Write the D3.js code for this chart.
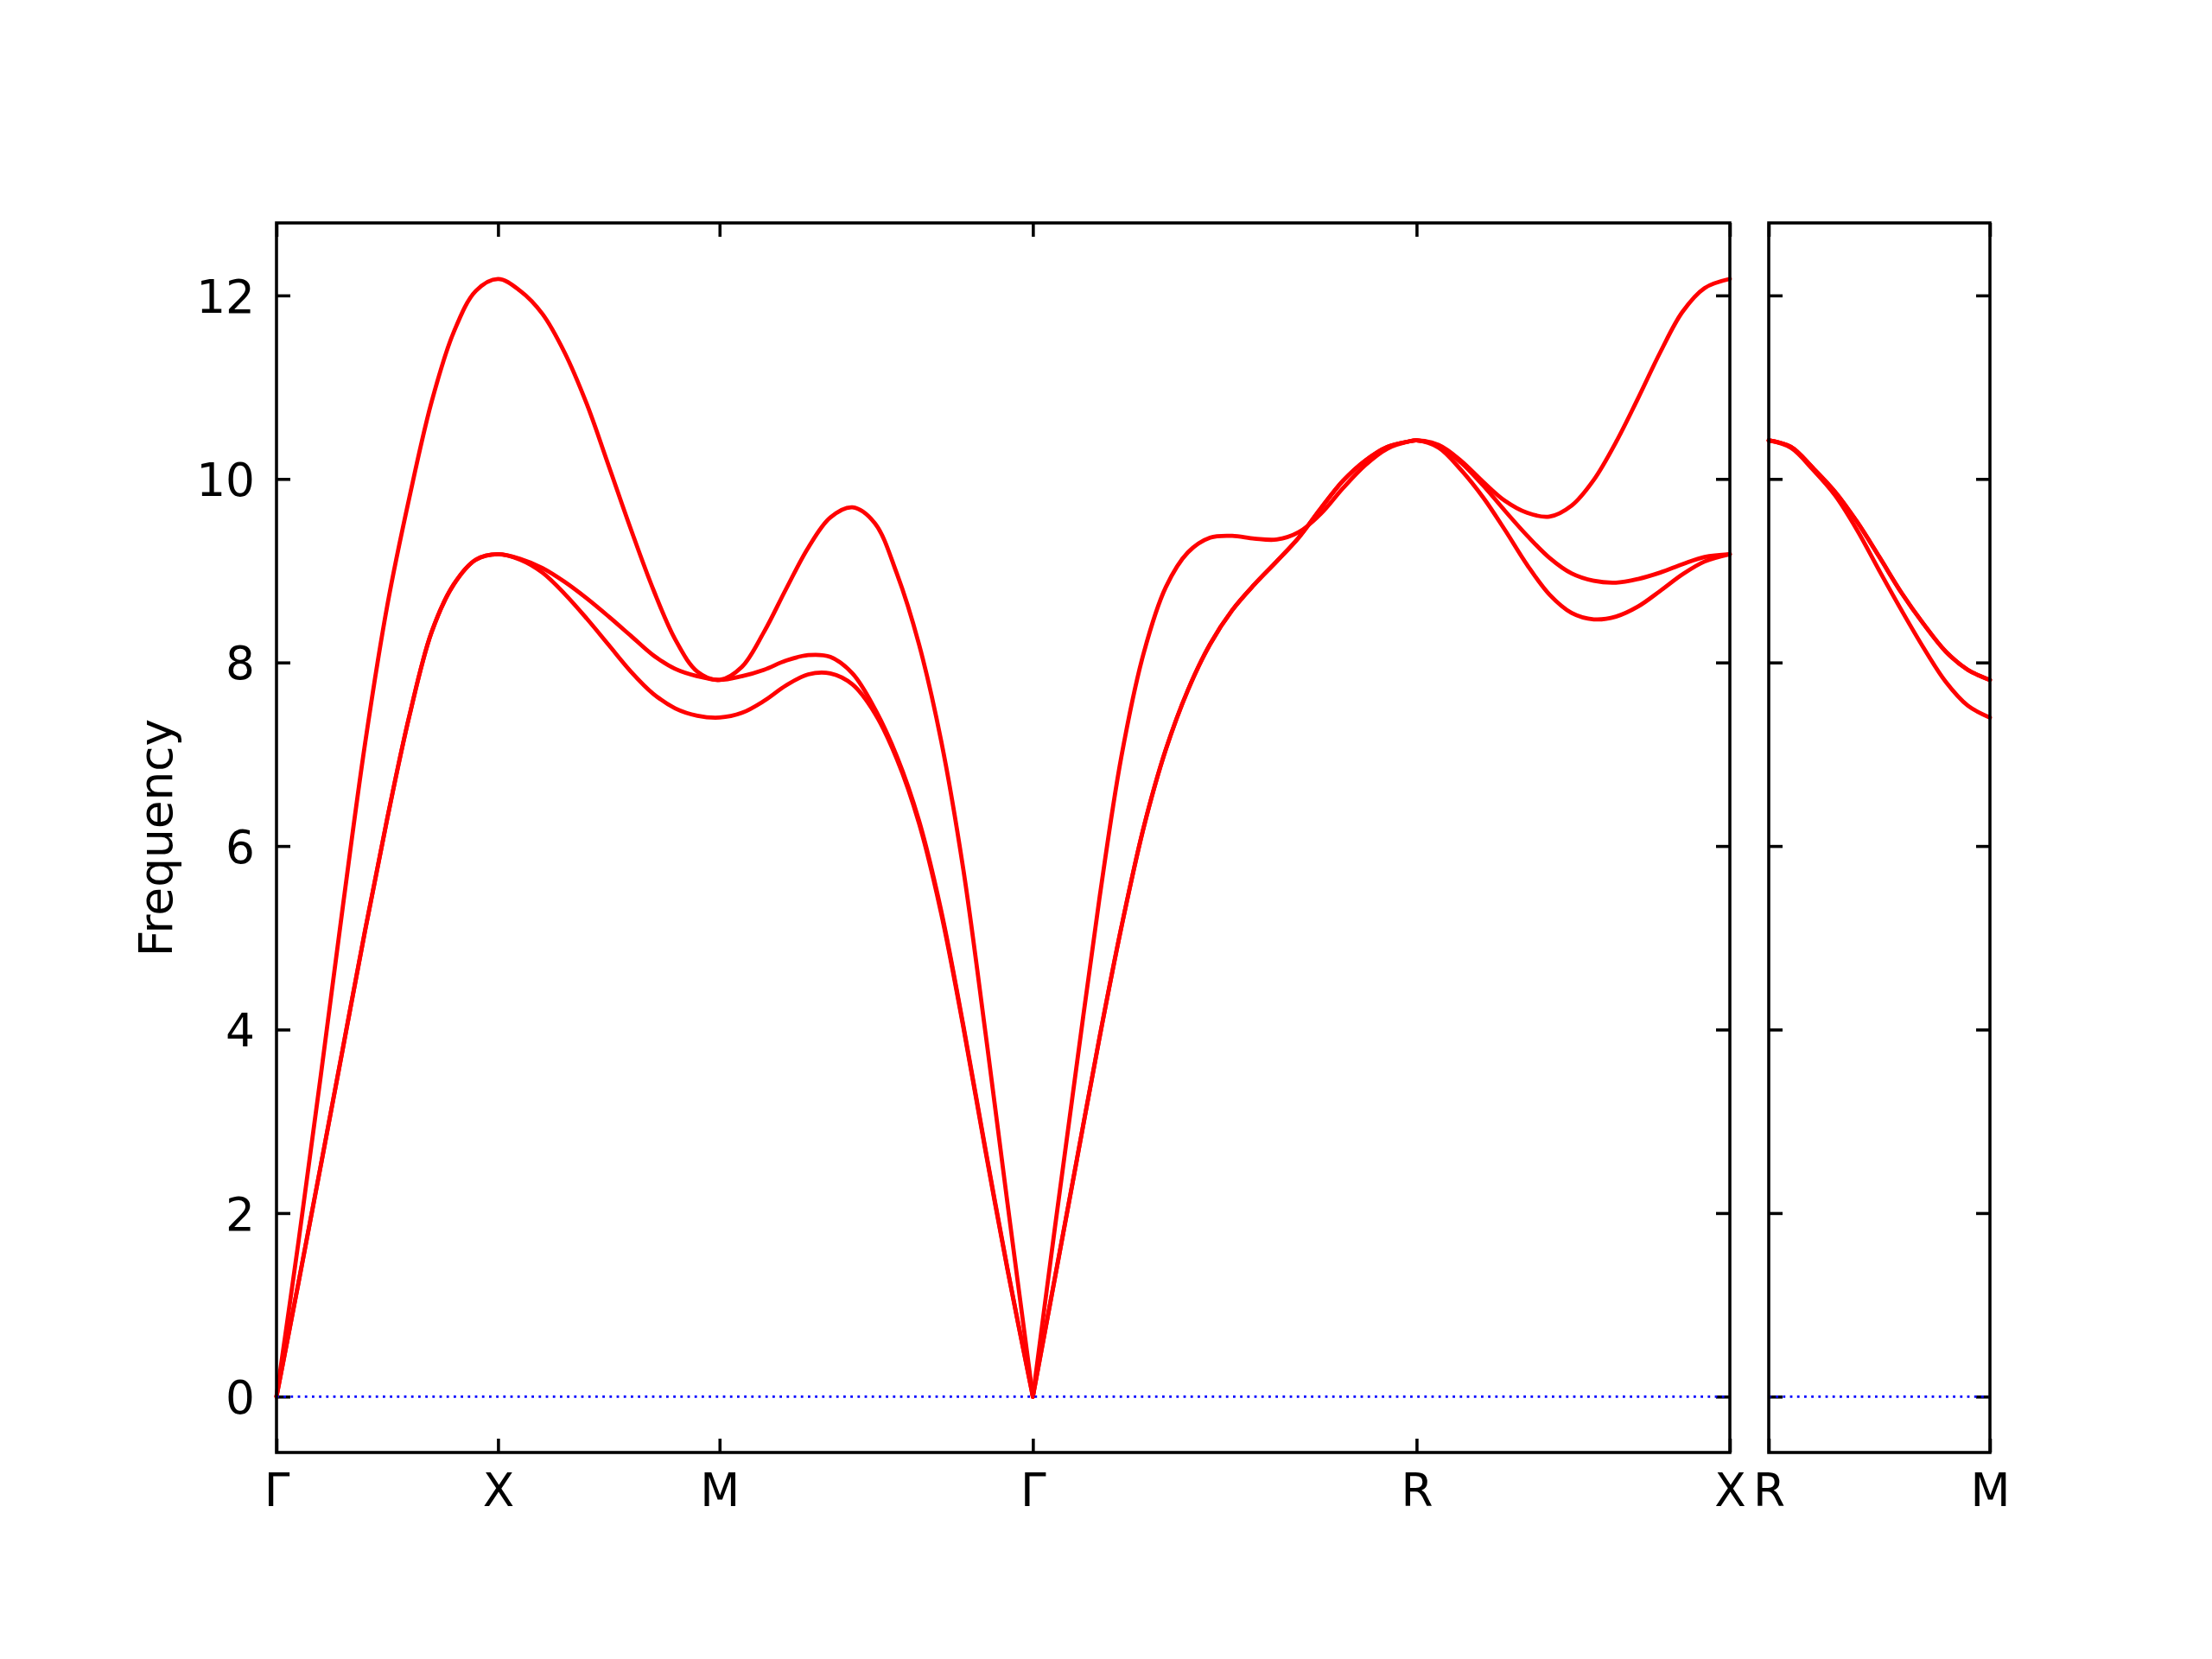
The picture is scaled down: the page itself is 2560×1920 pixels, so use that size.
<!DOCTYPE html>
<html>
<head>
<meta charset="utf-8">
<script src="https://cdn.jsdelivr.net/npm/d3@7"></script>
<style>
  body { margin: 0; background: #fff; }
  svg text { font-family: "DejaVu Sans", sans-serif; }
</style>
</head>
<body>
<div id="chart"></div>
<script>
// high symmetry path, two panels
var mainLabels = ["Γ", "X", "M", "Γ", "R", "X"];
var mainSegLengths = [0.5, 0.5, 0.7071, 0.8660, 0.7071];
var sideLabels = ["R", "M"];
var sideSegLengths = [0.5];

var freqTicks = [0, 2, 4, 6, 8, 10, 12];
var freqDomain = [-0.609, 12.79];

var kHalf = [0, 0.05, 0.1, 0.15, 0.2, 0.25, 0.3, 0.35, 0.4, 0.45, 0.5];
var kMG = [0, 0.05, 0.1, 0.15, 0.2, 0.25, 0.3, 0.35, 0.4, 0.45, 0.5, 0.55, 0.6, 0.65, 0.7071];
var kGR = [0, 0.05, 0.1, 0.15, 0.2, 0.25, 0.3, 0.35, 0.4, 0.45, 0.5, 0.55, 0.6, 0.65, 0.7, 0.75, 0.8, 0.85, 0.866];
var kRX = [0, 0.05, 0.1, 0.15, 0.2, 0.25, 0.3, 0.35, 0.4, 0.45, 0.5, 0.55, 0.6, 0.65, 0.7071];

// Gamma -> X
var gxBand1 = [0, 1.25, 2.52, 3.8, 5.08, 6.3, 7.42, 8.33, 8.85, 9.12, 9.18];
var gxBand2 = [0, 1.25, 2.52, 3.8, 5.08, 6.3, 7.42, 8.33, 8.85, 9.12, 9.18];
var gxBand3 = [0, 1.7, 3.5, 5.35, 7.12, 8.62, 9.8, 10.84, 11.6, 12.05, 12.18];

// X -> M
var xmBand1 = [9.18, 9.12, 8.98, 8.75, 8.48, 8.19, 7.9, 7.66, 7.5, 7.42, 7.40];
var xmBand2 = [9.18, 9.13, 9.03, 8.88, 8.7, 8.5, 8.29, 8.08, 7.93, 7.85, 7.81];
var xmBand3 = [12.18, 12.05, 11.8, 11.38, 10.82, 10.14, 9.45, 8.8, 8.25, 7.9, 7.81];

// M -> Gamma
var mgBand1 = [7.40, 7.45, 7.58, 7.75, 7.87, 7.88, 7.76, 7.45, 6.95, 6.25, 5.27, 4.03, 2.68, 1.38, 0];
var mgBand2 = [7.81, 7.85, 7.92, 8.02, 8.08, 8.06, 7.88, 7.5, 6.98, 6.28, 5.3, 4.05, 2.7, 1.39, 0];
var mgBand3 = [7.81, 7.95, 8.33, 8.8, 9.25, 9.58, 9.69, 9.52, 8.97, 8.2, 7.15, 5.75, 3.97, 2.1, 0];

// Gamma -> R
var grBand1 = [0, 1.3, 2.6, 3.9, 5.12, 6.2, 7.05, 7.7, 8.2, 8.57, 8.85, 9.1, 9.36, 9.68, 9.98, 10.2, 10.35, 10.41, 10.42];
var grBand2 = [0, 1.3, 2.6, 3.9, 5.12, 6.2, 7.05, 7.7, 8.2, 8.57, 8.85, 9.1, 9.36, 9.68, 9.98, 10.2, 10.35, 10.41, 10.42];
var grBand3 = [0, 1.85, 3.65, 5.42, 6.98, 8.1, 8.82, 9.2, 9.36, 9.38, 9.35, 9.34, 9.42, 9.62, 9.9, 10.15, 10.33, 10.41, 10.42];

// R -> X
var rxBand1 = [10.42, 10.34, 10.1, 9.8, 9.44, 9.06, 8.74, 8.54, 8.47, 8.5, 8.61, 8.78, 8.96, 9.1, 9.18];
var rxBand2 = [10.42, 10.36, 10.18, 9.93, 9.65, 9.38, 9.14, 8.97, 8.89, 8.87, 8.91, 8.98, 9.07, 9.15, 9.18];
var rxBand3 = [10.42, 10.37, 10.2, 9.97, 9.76, 9.63, 9.59, 9.71, 9.99, 10.4, 10.88, 11.38, 11.82, 12.08, 12.18];

// R -> M (second panel)
var rmBand1 = [10.42, 10.34, 10.1, 9.82, 9.44, 9.0, 8.57, 8.16, 7.79, 7.53, 7.40];
var rmBand2 = [10.42, 10.35, 10.12, 9.86, 9.53, 9.15, 8.76, 8.42, 8.12, 7.92, 7.81];
var rmBand3 = [10.42, 10.35, 10.12, 9.86, 9.53, 9.15, 8.76, 8.42, 8.12, 7.92, 7.81];

// piece: segments in the same piece are joined smoothly, Gamma breaks the line
var mainSegments = [
    { piece: 0, k: kHalf, bands: [gxBand1, gxBand2, gxBand3] },
    { piece: 0, k: kHalf, bands: [xmBand1, xmBand2, xmBand3] },
    { piece: 0, k: kMG, bands: [mgBand1, mgBand2, mgBand3] },
    { piece: 1, k: kGR, bands: [grBand1, grBand2, grBand3] },
    { piece: 1, k: kRX, bands: [rxBand1, rxBand2, rxBand3] }
];
var sideSegments = [
    { piece: 0, k: kHalf, bands: [rmBand1, rmBand2, rmBand3] }
];

var svgWidth = 2560;
var svgHeight = 1920;
var plotTop = 258;
var plotBottom = 1681;
var fontSize = 53.3;
var lineW = 3.56;
var tickLen = 16;

var svg = d3.select("#chart")
    .append("svg")
    .attr("width", svgWidth)
    .attr("height", svgHeight);

var yScale = d3.scaleLinear()
    .domain(freqDomain)
    .range([plotBottom, plotTop]);

function styleAxis(g) {
    g.select(".domain").remove();
    g.selectAll(".tick line")
        .attr("stroke", "black")
        .attr("stroke-width", lineW);
    g.selectAll(".tick text")
        .attr("fill", "black")
        .style("font-size", fontSize + "px");
}

function drawPanel(x0, x1, labels, segLengths, segments, showYLabels) {
    // cumulative distance of every high symmetry point
    var marks = [0];
    segLengths.forEach(function (len, i) { marks.push(marks[i] + len); });

    var xScale = d3.scaleLinear()
        .domain([0, marks[marks.length - 1]])
        .range([x0, x1]);

    var panel = svg.append("g");

    // ticks all point inward
    panel.append("g")
        .attr("transform", `translate(0, ${plotBottom})`)
        .call(d3.axisBottom(xScale).tickValues(marks)
            .tickFormat(function (d, i) { return labels[i]; })
            .tickSizeInner(-tickLen).tickSizeOuter(0).tickPadding(24))
        .call(styleAxis);

    panel.append("g")
        .attr("transform", `translate(0, ${plotTop})`)
        .call(d3.axisTop(xScale).tickValues(marks).tickFormat("")
            .tickSizeInner(-tickLen).tickSizeOuter(0))
        .call(styleAxis);

    var left = panel.append("g")
        .attr("transform", `translate(${x0}, 0)`)
        .call(d3.axisLeft(yScale).tickValues(freqTicks)
            .tickFormat(showYLabels ? d3.format("d") : "")
            .tickSizeInner(-tickLen).tickSizeOuter(0).tickPadding(25))
        .call(styleAxis);
    left.selectAll(".tick text").attr("dy", "0.36em");

    panel.append("g")
        .attr("transform", `translate(${x1}, 0)`)
        .call(d3.axisRight(yScale).tickValues(freqTicks).tickFormat("")
            .tickSizeInner(-tickLen).tickSizeOuter(0))
        .call(styleAxis);

    // collect points of every band, joined along each piece
    var pieces = {};
    segments.forEach(function (seg, s) {
        seg.bands.forEach(function (band, b) {
            var key = seg.piece + "_" + b;
            if (!pieces[key]) pieces[key] = [];
            seg.k.forEach(function (k, i) {
                if (i === 0 && pieces[key].length) return; // shared end point
                pieces[key].push([marks[s] + k, band[i]]);
            });
        });
    });

    var line = d3.line()
        .x(function (d) { return xScale(d[0]); })
        .y(function (d) { return yScale(d[1]); })
        .curve(d3.curveCatmullRom.alpha(0.5));

    Object.keys(pieces).forEach(function (key) {
        panel.append("path")
            .datum(pieces[key])
            .attr("d", line)
            .attr("fill", "none")
            .attr("stroke", "#ff0000")
            .attr("stroke-width", 4.8)
            .attr("stroke-linejoin", "round")
            .attr("stroke-linecap", "round");
    });

    // zero frequency guide
    panel.append("line")
        .attr("x1", x0)
        .attr("x2", x1)
        .attr("y1", yScale(0))
        .attr("y2", yScale(0))
        .attr("stroke", "blue")
        .attr("stroke-width", 2.8)
        .attr("stroke-dasharray", "2.8,5.4");

    panel.append("rect")
        .attr("x", x0)
        .attr("y", plotTop)
        .attr("width", x1 - x0)
        .attr("height", plotBottom - plotTop)
        .attr("fill", "none")
        .attr("stroke", "black")
        .attr("stroke-width", lineW);
}

drawPanel(320, 2002, mainLabels, mainSegLengths, mainSegments, true);
drawPanel(2047, 2303, sideLabels, sideSegLengths, sideSegments, false);

// y axis label
svg.append("text")
    .attr("transform", `translate(199, ${(plotTop + plotBottom) / 2}) rotate(-90)`)
    .attr("text-anchor", "middle")
    .attr("fill", "black")
    .style("font-size", fontSize + "px")
    .text("Frequency");
</script>
</body>
</html>
